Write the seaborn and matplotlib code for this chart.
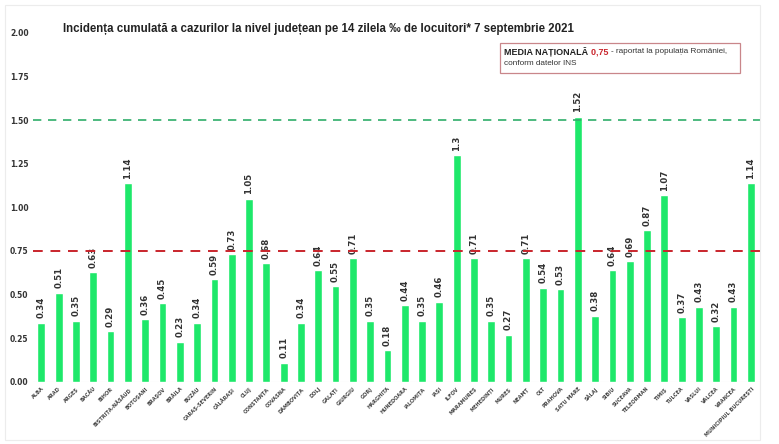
import matplotlib
matplotlib.use("Agg")
import matplotlib.pyplot as plt
import seaborn as sns
import pandas as pd
from matplotlib.patches import Rectangle

judete = [
    "ALBA", "ARAD", "ARGEȘ", "BACĂU", "BIHOR", "BISTRIȚA-NĂSĂUD", "BOTOȘANI",
    "BRAȘOV", "BRĂILA", "BUZĂU", "CARAȘ-SEVERIN", "CĂLĂRAȘI", "CLUJ",
    "CONSTANȚA", "COVASNA", "DÂMBOVIȚA", "DOLJ", "GALAȚI", "GIURGIU", "GORJ",
    "HARGHITA", "HUNEDOARA", "IALOMIȚA", "IAȘI", "ILFOV", "MARAMUREȘ",
    "MEHEDINȚI", "MUREȘ", "NEAMȚ", "OLT", "PRAHOVA", "SATU MARE", "SĂLAJ",
    "SIBIU", "SUCEAVA", "TELEORMAN", "TIMIȘ", "TULCEA", "VASLUI", "VÂLCEA",
    "VRANCEA", "MUNICIPIUL BUCUREȘTI",
]
incidenta = [
    0.34, 0.51, 0.35, 0.63, 0.29, 1.14, 0.36, 0.45, 0.23, 0.34, 0.59, 0.73,
    1.05, 0.68, 0.11, 0.34, 0.64, 0.55, 0.71, 0.35, 0.18, 0.44, 0.35, 0.46,
    1.3, 0.71, 0.35, 0.27, 0.71, 0.54, 0.53, 1.52, 0.38, 0.64, 0.69, 0.87,
    1.07, 0.37, 0.43, 0.32, 0.43, 1.14,
]
media_nationala = 0.75
prag = 1.50
y_ticks = [0.00, 0.25, 0.50, 0.75, 1.00, 1.25, 1.50, 1.75, 2.00]

df = pd.DataFrame({"judet": judete, "incidenta": incidenta})

sns.set_style("white")
plt.rcParams["font.family"] = ["DejaVu Sans"]
narrow = ["Liberation Sans Narrow", "Liberation Sans", "DejaVu Sans"]

fig = plt.figure(figsize=(7.79, 4.44), dpi=100)
ax = fig.add_axes([0.042, 0.14, 0.933, 0.786])

sns.barplot(data=df, x="judet", y="incidenta", color="#1ee86a",
            saturation=1, width=0.45, ax=ax)

for i, v in enumerate(incidenta):
    ax.text(i, v + 0.025, f"{v:g}", rotation=90, ha="center", va="bottom",
            fontsize=6.2, fontweight="bold", color="#333333")

ax.axhline(media_nationala, color="#c9252c", lw=1.4, ls=(0, (5, 4)), zorder=3)
ax.axhline(prag, color="#2fae6a", lw=1.2, ls=(0, (5, 4)), zorder=3)

ax.set_ylim(0, 2.0)
ax.set_xlim(-0.5, len(judete) - 0.5)
ax.set_yticks(y_ticks)
ax.set_yticklabels([f"{t:.2f}" for t in y_ticks], fontsize=5.5,
                   fontweight="bold", color="#333333")
ax.set_xticks(range(len(judete)))
ax.set_xticklabels(judete, rotation=45, ha="right", rotation_mode="anchor",
                   fontsize=3.6, fontweight="bold", color="#444444")
ax.tick_params(axis="both", length=0, pad=3)
ax.set_xlabel("")
ax.set_ylabel("")
for s in ax.spines.values():
    s.set_visible(False)
ax.axhline(0, color="#dddddd", lw=0.8, zorder=0)

fig.text(0.081, 0.935,
         "Incidența cumulată a cazurilor la nivel județean pe 14 zilela ‰ de locuitori* 7 septembrie 2021",
         fontsize=8.3, fontweight="bold", color="#222222", va="center",
         family=narrow)

# caseta cu media nationala
fig.patches.append(Rectangle((0.642, 0.836), 0.308, 0.068,
                             transform=fig.transFigure, fill=True,
                             facecolor="white", edgecolor="#c9868a", lw=0.9))
t1 = fig.text(0.647, 0.884, "MEDIA NAȚIONALĂ ", fontsize=6.5,
              fontweight="bold", color="#222222", va="center", family=narrow)
fig.canvas.draw()
bb = t1.get_window_extent().transformed(fig.transFigure.inverted())
t2 = fig.text(bb.x1, 0.884, "0,75 ", fontsize=6.5, fontweight="bold",
              color="#c9252c", va="center", family=narrow)
fig.canvas.draw()
bb2 = t2.get_window_extent().transformed(fig.transFigure.inverted())
fig.text(bb2.x1, 0.884, "- raportat la populația României,", fontsize=5.9,
         color="#333333", va="center", family=narrow)
fig.text(0.647, 0.856, "conform datelor INS", fontsize=5.9, color="#333333",
         va="center", family=narrow)

# chenar discret in jurul graficului
fig.patches.append(Rectangle((0.006, 0.01), 0.97, 0.978,
                             transform=fig.transFigure, fill=False,
                             edgecolor="#ececec", lw=0.8))

fig.savefig("out.png", dpi=100)
